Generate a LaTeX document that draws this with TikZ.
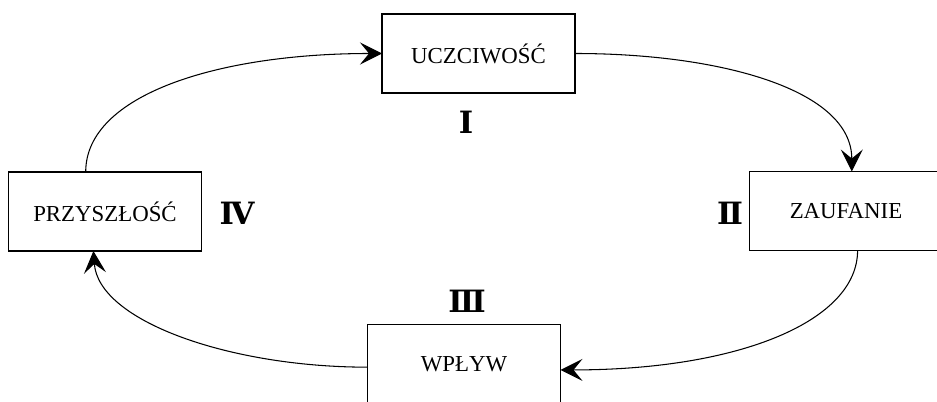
\documentclass[tikz,border=0pt]{standalone}
\usepackage{fontspec}
\setmainfont{Liberation Serif}
\newfontfamily\romfont{DejaVu Serif}
\usepackage{tkz-graph}
\usetikzlibrary{arrows.meta,calc}

\begin{document}
\begin{tikzpicture}[x=0.2mm,y=-0.2mm]
    \useasboundingbox (0,0) rectangle (937,402);
    \GraphInit[vstyle=Normal]
    \tikzset{VertexStyle/.style={draw, rectangle, line width=0.6pt, minimum width=38.6mm, minimum height=15.8mm, inner sep=0pt, font=\fontsize{13}{15}\selectfont}}
    \tikzset{flow/.style={line width=0.6pt, -{Stealth[length=4.4mm, width=4.4mm, inset=1.8mm]}}}
    \tikzset{num/.style={font=\romfont\bfseries\fontsize{17.5}{19}\selectfont}}
    \Vertex[x=478.5,y=53.5,L=UCZCIWOŚĆ]{U}
    \Vertex[x=846,y=211,L=ZAUFANIE,style={minimum width=37.6mm}]{Z}
    \Vertex[x=464,y=364,L=WPŁYW]{W}
    \Vertex[x=105,y=211.5,L=PRZYSZŁOŚĆ,style={minimum width=39.2mm}]{P}

    \node[num] (n1) at (466,122) {Ⅰ};
    \node[num] (n2) at (730,213) {Ⅱ};
    \node[num] (n3) at (467,301) {Ⅲ};
    \node[num] (n4) at (237,213) {Ⅳ};

    \draw[flow] ($(P.north west)!0.4!(P.north east)$) .. controls +(0,-78) and +(-162,0) .. (U.west);
    \draw[flow] (U.east) .. controls +(145,0) and +(0,-82) .. ($(Z.north west)!0.53!(Z.north east)$);
    \draw[flow] ($(Z.south west)!0.56!(Z.south east)$) .. controls +(0,70) and +(180,0) .. ($(W.north east)!0.575!(W.south east)$);
    \draw[flow] ($(W.north west)!0.54!(W.south west)$) .. controls +(-138,0) and +(5,70) .. ($(P.south west)!0.44!(P.south east)$);
    \end{tikzpicture}
\end{document}
